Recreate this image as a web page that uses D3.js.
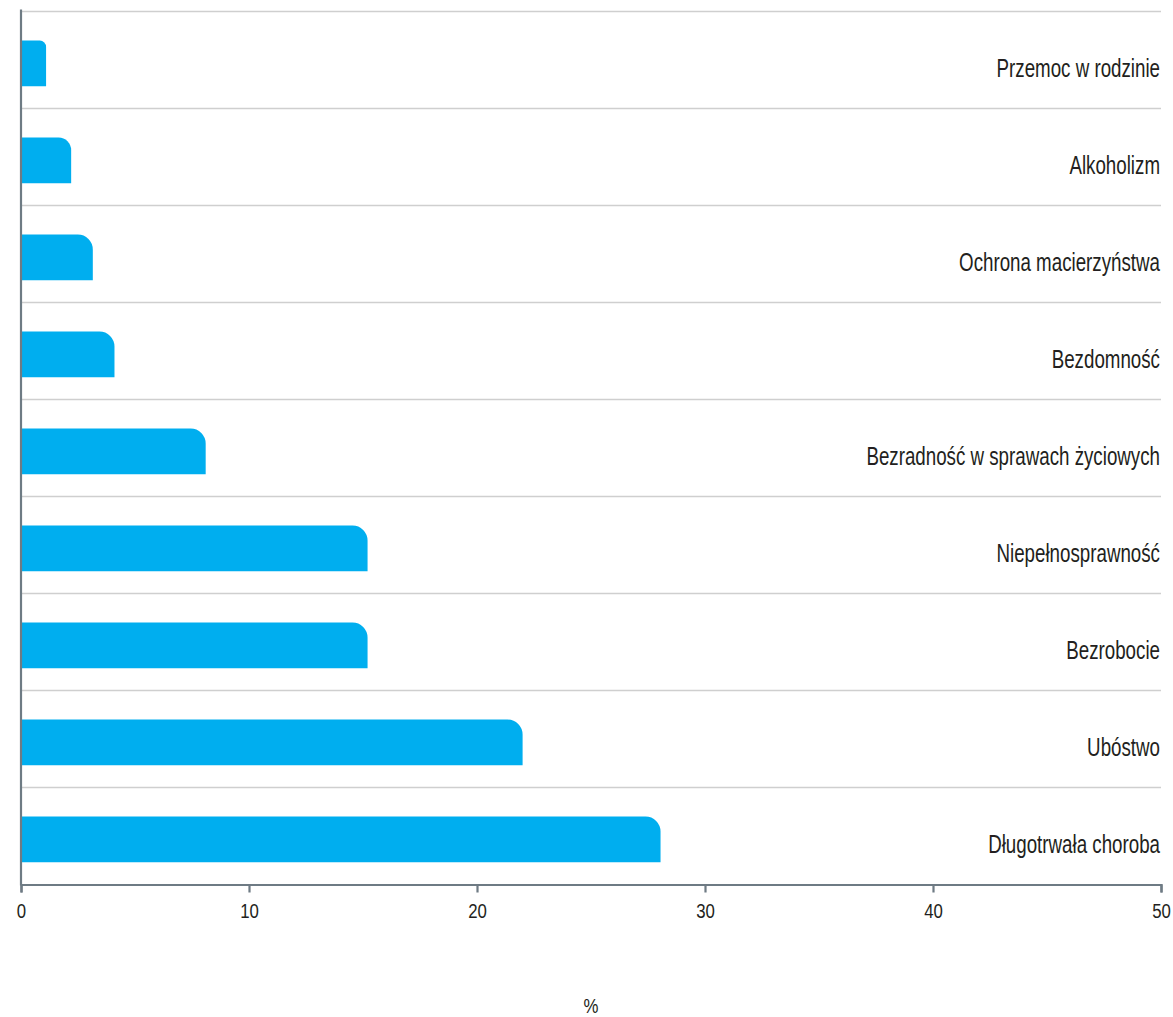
<!DOCTYPE html>
<html><head><meta charset="utf-8">
<script src="https://cdn.jsdelivr.net/npm/d3@7"></script>
<style>body{margin:0;background:#fff}svg{display:block}</style>
</head><body>
<svg id="c" width="1173" height="1017"></svg>
<script>
const categories = ["Przemoc w rodzinie","Alkoholizm","Ochrona macierzyństwa","Bezdomność","Bezradność w sprawach życiowych","Niepełnosprawność","Bezrobocie","Ubóstwo","Długotrwała choroba"];
const values = [1.1, 2.2, 3.15, 4.1, 8.1, 15.2, 15.2, 22.0, 28.05];
const xTicks = [0,10,20,30,40,50];
const axisTitle = "%";

const svg = d3.select("#c");
const mLeft = 21, mRight = 1161, mTop = 10.5, mBottom = 883.5;
const x = d3.scaleLinear().domain([0,50]).range([mLeft,mRight]);
const y = d3.scaleBand().domain(categories).range([mTop,mBottom]).padding(0);
const font = "'Liberation Sans',Arial,sans-serif";
const txtCol = "#231f20";

// grid lines
const edges = categories.map(c=>y(c));
svg.append("g").selectAll("line").data(edges).join("line")
  .attr("x1",mLeft).attr("x2",mRight).attr("y1",d=>Math.round(d)+0.5).attr("y2",d=>Math.round(d)+0.5)
  .attr("stroke","#cfcfcf").attr("stroke-width",1.3);

// bars
function barPath(x0,x1,y0,h){
  const w = x1-x0; const r = Math.min(15, w*0.25, h/2);
  return `M${x0},${y0}H${x1-r}A${r},${r} 0 0 1 ${x1},${y0+r}V${y0+h}H${x0}Z`;
}
const bs = y.step();
svg.append("g").selectAll("path").data(categories).join("path")
  .attr("d",(c,i)=>barPath(x(0), x(values[i]), y(c)+bs*0.31, bs*0.47))
  .attr("fill","#00aeef");

// category labels
svg.append("g").selectAll("text").data(categories).join("text")
  .attr("transform",c=>`translate(${mRight-1},${y(c)+bs*0.69}) scale(0.75,1)`)
  .attr("text-anchor","end").attr("font-family",font).attr("font-size",25)
  .attr("fill",txtCol).text(c=>c);

// axes
const ax = svg.append("g").attr("transform",`translate(0,${mBottom+1})`)
  .call(d3.axisBottom(x).tickValues(xTicks).tickSize(8).tickFormat(d3.format("d")));
ax.select(".domain").attr("stroke","#6e7b84").attr("stroke-width",2.2);
ax.selectAll(".tick line").attr("stroke","#6e7b84").attr("stroke-width",2.2);
ax.selectAll(".tick text").attr("font-family",font).attr("font-size",21).attr("fill",txtCol)
  .attr("y",33.5).attr("dy",null).attr("transform","scale(0.8,1)");

svg.append("line").attr("x1",mLeft).attr("x2",mLeft).attr("y1",mTop-1).attr("y2",mBottom+2)
  .attr("stroke","#6e7b84").attr("stroke-width",2.2);

svg.append("text").attr("transform",`translate(${(mLeft+mRight)/2},1013) scale(0.8,1)`)
  .attr("text-anchor","middle").attr("font-family",font).attr("font-size",21).attr("fill",txtCol).text(axisTitle);
</script>
</body></html>
